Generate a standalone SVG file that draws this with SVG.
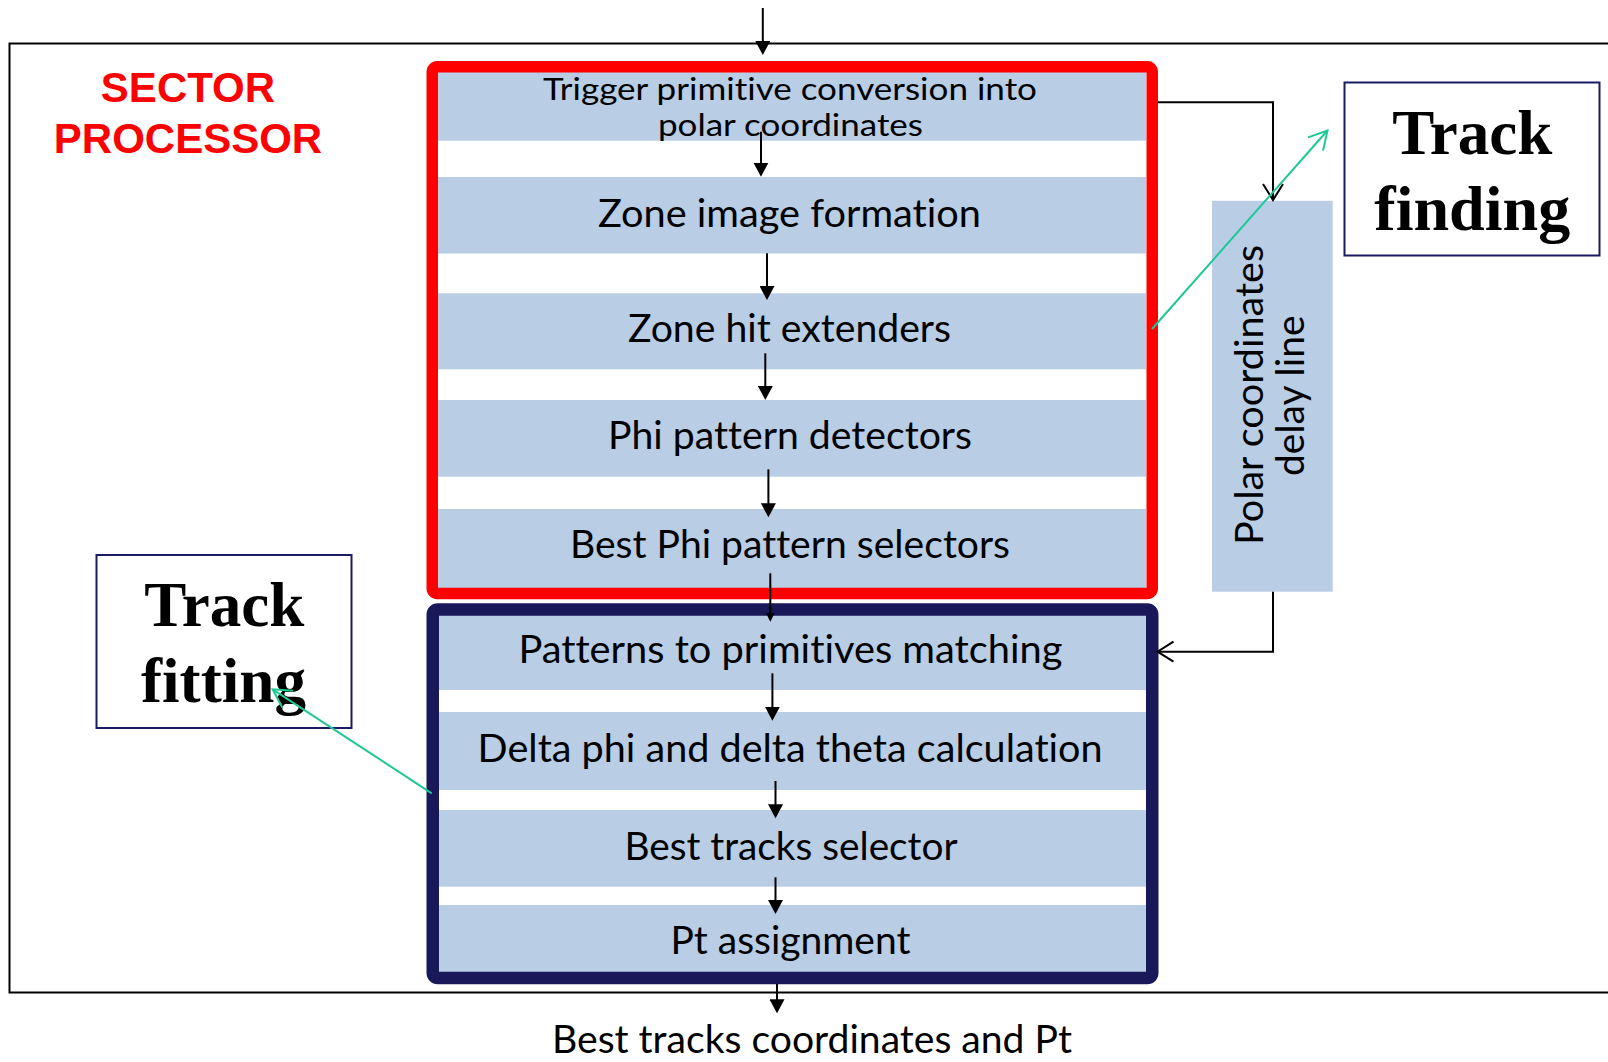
<svg xmlns="http://www.w3.org/2000/svg" width="1608" height="1062" viewBox="0 0 1608 1062">
  <style>
    .band { fill: #B9CDE5; }
    .step { font-family: Lato, "Open Sans", "Liberation Sans", sans-serif; font-size: 38px; fill: #000; font-variant-ligatures: none; }
    .small { font-size: 30px; }
    .title { font-family: "Liberation Sans", Arial, sans-serif; font-weight: bold; font-size: 42px; fill: #FF0000; }
    .label { font-family: "Liberation Serif", "Times New Roman", serif; font-weight: bold; font-size: 63px; fill: #000; }
    .frame { fill: none; stroke: #1B1B62; stroke-width: 2; }
    .wire { fill: none; stroke: #000; stroke-width: 2; }
    .link { fill: none; stroke: #1EC896; stroke-width: 2; }
  </style>
  <defs>
    <marker id="headFill" markerUnits="userSpaceOnUse" viewBox="0 0 14 15" markerWidth="14" markerHeight="15" refX="9" refY="7.5" orient="auto">
      <path d="M0,0 L14,7.5 L0,15 Z" fill="#000"/>
    </marker>
    <marker id="headSmall" markerUnits="userSpaceOnUse" viewBox="0 0 9 9" markerWidth="9" markerHeight="9" refX="5" refY="4.5" orient="auto">
      <path d="M0,0 L9,4.5 L0,9 Z" fill="#000"/>
    </marker>
    <marker id="headOpen" markerUnits="userSpaceOnUse" viewBox="-2 -2 20 24" markerWidth="20" markerHeight="24" refX="16" refY="10" orient="auto" overflow="visible">
      <path d="M0,0 L16,10 L0,20" fill="none" stroke="#000" stroke-width="2"/>
    </marker>
    <marker id="headGreen" markerUnits="userSpaceOnUse" viewBox="-2 -2 22 24" markerWidth="22" markerHeight="24" refX="18" refY="10" orient="auto" overflow="visible">
      <path d="M0,0 L18,10 L0,20" fill="none" stroke="#1EC896" stroke-width="2"/>
    </marker>
  </defs>

  <rect width="1608" height="1062" fill="#FFFFFF"/>

  <!-- sector processor outline (open on the right) -->
  <g id="sector-processor">
    <path d="M1610,43.5 H9.5 V992.5 H1610" fill="none" stroke="#000" stroke-width="2"/>
    <text class="title" x="188" y="101.6" text-anchor="middle">SECTOR</text>
    <text class="title" x="188" y="153" text-anchor="middle">PROCESSOR</text>
  </g>

  <!-- track finding stage -->
  <g id="track-finding-stage">
    <rect class="band" x="438" y="68" width="708" height="72.7"/>
    <rect class="band" x="438" y="177" width="708" height="76.5"/>
    <rect class="band" x="438" y="293.3" width="708" height="76"/>
    <rect class="band" x="438" y="400" width="708" height="76.7"/>
    <rect class="band" x="438" y="509" width="708" height="81"/>
    <rect x="432.25" y="66.75" width="720" height="526.75" rx="5" fill="none" stroke="#FF0000" stroke-width="11.5"/>
  </g>

  <g id="step-conversion">
    <text class="step small" x="543" y="99.5" textLength="494" lengthAdjust="spacingAndGlyphs">Trigger primitive conversion into</text>
    <text class="step small" x="658" y="135.5" textLength="265" lengthAdjust="spacingAndGlyphs">polar coordinates</text>
  </g>
  <g id="step-zone-image">
    <text class="step" x="598" y="227" textLength="383" lengthAdjust="spacingAndGlyphs">Zone image formation</text>
  </g>
  <g id="step-hit-extenders">
    <text class="step" x="628" y="342" textLength="323" lengthAdjust="spacingAndGlyphs">Zone hit extenders</text>
  </g>
  <g id="step-phi-detectors">
    <text class="step" x="608" y="449" textLength="364" lengthAdjust="spacingAndGlyphs">Phi pattern detectors</text>
  </g>
  <g id="step-phi-selectors">
    <text class="step" x="570" y="558" textLength="440" lengthAdjust="spacingAndGlyphs">Best Phi pattern selectors</text>
  </g>

  <!-- track fitting stage -->
  <g id="track-fitting-stage">
    <rect class="band" x="438" y="612" width="708" height="78"/>
    <rect class="band" x="438" y="712" width="708" height="78"/>
    <rect class="band" x="438" y="810" width="708" height="76.7"/>
    <rect class="band" x="438" y="905" width="708" height="72"/>
    <rect x="432.75" y="609.5" width="719.5" height="368.5" rx="5" fill="none" stroke="#191959" stroke-width="12.5"/>
  </g>

  <g id="step-matching">
    <text class="step" x="518.4" y="663" textLength="544" lengthAdjust="spacingAndGlyphs">Patterns to primitives matching</text>
  </g>
  <g id="step-delta">
    <text class="step" x="477.6" y="762" textLength="625" lengthAdjust="spacingAndGlyphs">Delta phi and delta theta calculation</text>
  </g>
  <g id="step-best-tracks">
    <text class="step" x="624.5" y="860" textLength="333" lengthAdjust="spacingAndGlyphs">Best tracks selector</text>
  </g>
  <g id="step-pt">
    <text class="step" x="670.4" y="954" textLength="240" lengthAdjust="spacingAndGlyphs">Pt assignment</text>
  </g>

  <!-- delay line running beside the finding stage -->
  <g id="delay-line">
    <rect class="band" x="1212" y="200.8" width="120.7" height="390.9"/>
    <g transform="translate(1272,395.5) rotate(-90)">
      <text class="step" x="-149.5" y="-9.3" textLength="300" lengthAdjust="spacingAndGlyphs">Polar coordinates</text>
      <text class="step" x="-80.5" y="31.5" textLength="160.5" lengthAdjust="spacingAndGlyphs">delay line</text>
    </g>
  </g>

  <g id="output-label">
    <text class="step" x="552" y="1053" textLength="520" lengthAdjust="spacingAndGlyphs">Best tracks coordinates and Pt</text>
  </g>

  <g id="label-track-finding">
    <rect class="frame" x="1344.5" y="82.5" width="255" height="173"/>
    <text class="label" x="1392.3" y="154" textLength="160" lengthAdjust="spacingAndGlyphs">Track</text>
    <text class="label" x="1374.3" y="230" textLength="196" lengthAdjust="spacingAndGlyphs">finding</text>
  </g>

  <g id="label-track-fitting">
    <rect class="frame" x="96.5" y="555" width="255" height="173"/>
    <text class="label" x="144.3" y="626" textLength="160" lengthAdjust="spacingAndGlyphs">Track</text>
    <text class="label" x="141" y="702" textLength="165" lengthAdjust="spacingAndGlyphs">fitting</text>
  </g>

  <!-- connectors -->
  <g id="connectors">
    <line class="wire" x1="762.8" y1="8" x2="762.8" y2="50" marker-end="url(#headFill)"/>
    <line class="wire" x1="761" y1="131.7" x2="761" y2="171.7" marker-end="url(#headFill)"/>
    <line class="wire" x1="767" y1="253.3" x2="767" y2="295" marker-end="url(#headFill)"/>
    <line class="wire" x1="765.3" y1="353.3" x2="765.3" y2="395" marker-end="url(#headFill)"/>
    <line class="wire" x1="768.4" y1="469.3" x2="768.4" y2="512.3" marker-end="url(#headFill)"/>
    <line class="wire" x1="770.3" y1="573.3" x2="770.3" y2="617.7" marker-end="url(#headSmall)"/>
    <line class="wire" x1="772.4" y1="673.3" x2="772.4" y2="715.7" marker-end="url(#headFill)"/>
    <line class="wire" x1="775.5" y1="781" x2="775.5" y2="813.3" marker-end="url(#headFill)"/>
    <line class="wire" x1="775.5" y1="877.3" x2="775.5" y2="909" marker-end="url(#headFill)"/>
    <line class="wire" x1="777" y1="984" x2="777" y2="1008.3" marker-end="url(#headFill)"/>
    <polyline class="wire" points="1158,102.3 1273,102.3 1273,200" marker-end="url(#headOpen)"/>
    <polyline class="wire" points="1273,591.7 1273,651.7 1157.5,651.7" marker-end="url(#headOpen)"/>
    <line class="link" x1="1152" y1="329" x2="1327.5" y2="130.5" marker-end="url(#headGreen)"/>
    <line class="link" x1="431.7" y1="793.3" x2="272.7" y2="689.3" marker-end="url(#headGreen)"/>
  </g>
</svg>
